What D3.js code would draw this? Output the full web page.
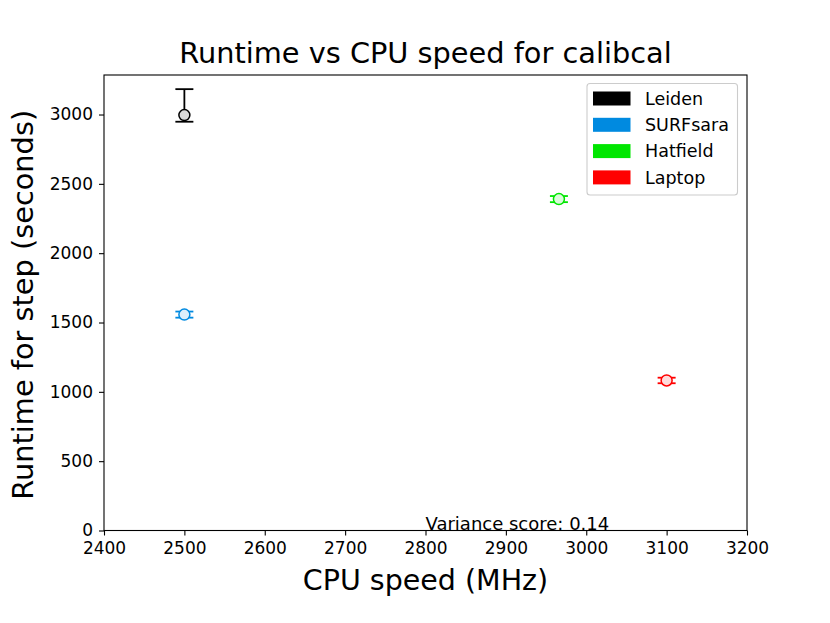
<!DOCTYPE html>
<html><head><meta charset="utf-8">
<script src="https://cdn.jsdelivr.net/npm/d3@7"></script>
<style>body{margin:0;background:#fff}text{font-family:"DejaVu Sans",sans-serif}</style>
</head><body><svg id="c" width="830" height="623"></svg>
<script>
const sites = ["Leiden","SURFsara","Hatfield","Laptop"];
const colors = ["#000000","#008ae0","#00e600","#ff0000"];
const cpuSpeed = [2500,2500,2966,3100];
const runtime = [2996,1557,2390,1082];
const errLow = [48,22,22,20];
const errHigh = [187,22,22,20];
const xTicks = [2400,2500,2600,2700,2800,2900,3000,3100,3200];
const yTicks = [0,500,1000,1500,2000,2500,3000];
const title = "Runtime vs CPU speed for calibcal";
const xLabel = "CPU speed (MHz)";
const yLabel = "Runtime for step (seconds)";
const note = "Variance score: 0.14";

const svg = d3.select("#c");
const L=104,R=747,T=75,B=530.5;
const x = d3.scaleLinear().domain([2400,3200]).range([L,R]);
const y = d3.scaleLinear().domain([0,3285]).range([B,T]);

svg.append("g").attr("transform",`translate(0,${B})`)
  .call(d3.axisBottom(x).tickValues(xTicks).tickSize(5).tickPadding(6).tickFormat(d3.format("d")))
  .call(g=>{g.select(".domain").remove();g.selectAll("text").attr("font-size",17).attr("font-family","DejaVu Sans").attr("fill","#000");g.selectAll("line").attr("stroke","#000").attr("stroke-width",1.1);});
svg.append("g").attr("transform",`translate(${L},0)`)
  .call(d3.axisLeft(y).tickValues(yTicks).tickSize(5).tickPadding(6).tickFormat(d3.format("d")))
  .call(g=>{g.select(".domain").remove();g.selectAll("text").attr("font-size",17).attr("font-family","DejaVu Sans").attr("fill","#000");g.selectAll("line").attr("stroke","#000").attr("stroke-width",1.1);});

svg.append("rect").attr("x",L).attr("y",T).attr("width",R-L).attr("height",B-T)
  .attr("fill","none").attr("stroke","#000").attr("stroke-width",1.1);

const data = sites.map((s,i)=>({s,c:colors[i],x:cpuSpeed[i],y:runtime[i],lo:runtime[i]-errLow[i],hi:runtime[i]+errHigh[i]}));
const g = svg.append("g");
data.forEach(d=>{
  const cx=x(d.x);
  g.append("line").attr("x1",cx).attr("x2",cx).attr("y1",y(d.lo)).attr("y2",y(d.hi)).attr("stroke",d.c).attr("stroke-width",1.8);
  [d.lo,d.hi].forEach(v=>g.append("line").attr("x1",cx-9).attr("x2",cx+9).attr("y1",y(v)).attr("y2",y(v)).attr("stroke",d.c).attr("stroke-width",1.8));
  g.append("circle").attr("cx",cx).attr("cy",y(d.y)).attr("r",5.5).attr("fill","#fff").attr("stroke",d.c).attr("stroke-width",1.5);
  g.append("circle").attr("cx",cx).attr("cy",y(d.y)).attr("r",5.5).attr("fill",d.c).attr("fill-opacity",0.14).attr("stroke","none");
});

svg.append("text").attr("x",x(2800)).attr("y",B-1).attr("font-size",18).attr("fill","#000").text(note);

svg.append("text").attr("x",(L+R)/2).attr("y",63).attr("text-anchor","middle").attr("font-size",28.8).attr("fill","#000").text(title);
svg.append("text").attr("x",(L+R)/2).attr("y",590).attr("text-anchor","middle").attr("font-size",28.5).attr("fill","#000").text(xLabel);
svg.append("text").attr("transform",`translate(33,${(T+B)/2+2}) rotate(-90)`).attr("text-anchor","middle").attr("font-size",28.8).attr("fill","#000").text(yLabel);

const lg = svg.append("g");
lg.append("rect").attr("x",587).attr("y",83.5).attr("width",150.5).attr("height",111.5).attr("rx",3)
  .attr("fill","#fff").attr("fill-opacity",0.8).attr("stroke","#ccc").attr("stroke-width",1.1);
sites.forEach((s,i)=>{
  const cy=98.5+i*26.3;
  lg.append("rect").attr("x",593).attr("y",cy-7).attr("width",37.5).attr("height",14).attr("fill",colors[i]);
  lg.append("text").attr("x",645).attr("y",cy+6.3).attr("font-size",17.5).attr("fill","#000").text(s);
});
</script></body></html>
